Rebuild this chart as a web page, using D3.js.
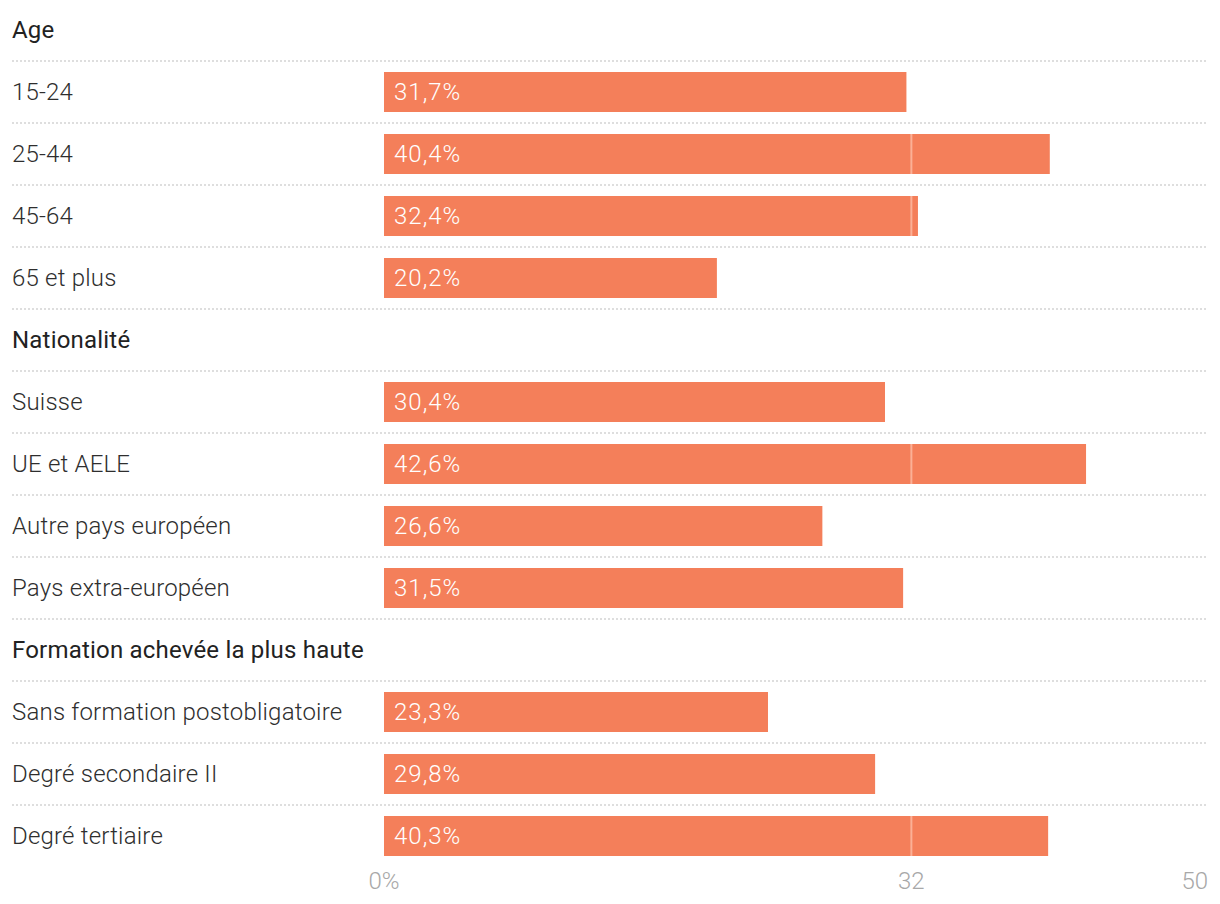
<!DOCTYPE html>
<html>
<head>
<meta charset="utf-8">
<script src="https://cdn.jsdelivr.net/npm/d3@7"></script>
<style>
html,body{margin:0;padding:0;background:#fff;}
svg{display:block;}
text{font-family:Roboto,"Noto Sans",sans-serif;}
</style>
</head>
<body>
<script>
const groupNames = ["Age", "Nationalité", "Formation achevée la plus haute"];
const categories = ["15-24", "25-44", "45-64", "65 et plus",
  "Suisse", "UE et AELE", "Autre pays européen", "Pays extra-européen",
  "Sans formation postobligatoire", "Degré secondaire II", "Degré tertiaire"];
const categoryGroup = [0, 0, 0, 0, 1, 1, 1, 1, 2, 2, 2];
const values = [31.7, 40.4, 32.4, 20.2, 30.4, 42.6, 26.6, 31.5, 23.3, 29.8, 40.3];
const referenceValue = 32;
const tickValues = [0, 32, 50];
const tickLabels = ["0%", "32", "50"];

const W = 1220, H = 904;
const svg = d3.select("body").append("svg").attr("width", W).attr("height", H);

// build row list
const rows = [];
groupNames.forEach((g, gi) => {
  rows.push({type: "header", label: g, key: "h" + gi});
  categories.forEach((c, i) => {
    if (categoryGroup[i] === gi) rows.push({type: "bar", label: c, value: values[i], key: "c" + i});
  });
});

const y = d3.scaleBand().domain(rows.map(r => r.key)).range([-1, -1 + 62 * rows.length]).padding(0);
const x = d3.scaleLinear().domain([0, 50]).range([384, 1208]);
const fmt = v => d3.format(".1f")(v).replace(".", ",") + "%";

// separators
svg.append("g").selectAll("line").data(rows.slice(0, -1)).join("line")
  .attr("x1", 12).attr("x2", 1208)
  .attr("y1", d => y(d.key) + y.bandwidth()).attr("y2", d => y(d.key) + y.bandwidth())
  .attr("stroke", "#d4d4d4").attr("stroke-width", 1.6).attr("stroke-dasharray", "2,2");

// labels
svg.append("g").selectAll("text").data(rows).join("text")
  .attr("x", 12).attr("y", d => y(d.key) + y.bandwidth() / 2 + 1.5)
  .attr("dominant-baseline", "middle")
  .attr("font-size", 24)
  .attr("font-weight", d => d.type === "header" ? 400 : 300)
  .attr("fill", d => d.type === "header" ? "#222" : "#2e2e2e")
  .attr("letter-spacing", 0.2)
  .text(d => d.label);

const barRows = rows.filter(r => r.type === "bar");
const bars = svg.append("g");
bars.selectAll("rect").data(barRows).join("rect")
  .attr("x", x(0)).attr("y", d => y(d.key) + 11)
  .attr("width", d => x(d.value) - x(0)).attr("height", 40)
  .attr("fill", "#f47f5a");

// reference line inside bars
bars.selectAll("line.ref").data(barRows.filter(d => d.value > referenceValue)).join("line")
  .attr("class", "ref")
  .attr("x1", x(referenceValue)).attr("x2", x(referenceValue))
  .attr("y1", d => y(d.key) + 11).attr("y2", d => y(d.key) + 51)
  .attr("stroke", "#fbb096").attr("stroke-width", 2);

bars.selectAll("text").data(barRows).join("text")
  .attr("x", x(0) + 10).attr("y", d => y(d.key) + 32.5)
  .attr("dominant-baseline", "middle")
  .attr("font-size", 24).attr("font-weight", 300).attr("letter-spacing", 1)
  .attr("fill", "#fff")
  .text(d => fmt(d.value));

// axis
const ax = svg.append("g");
ax.selectAll("text").data(tickValues).join("text")
  .attr("x", d => x(d))
  .attr("y", 883)
  .attr("dominant-baseline", "middle")
  .attr("text-anchor", (d, i) => i === tickValues.length - 1 ? "end" : "middle")
  .attr("font-size", 24).attr("font-weight", 300)
  .attr("fill", "#a8a8a8")
  .text((d, i) => tickLabels[i]);
</script>
</body>
</html>
